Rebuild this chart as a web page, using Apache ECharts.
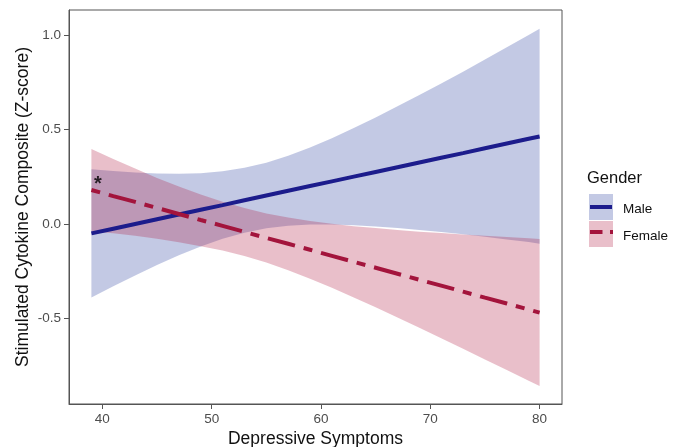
<!DOCTYPE html>
<html>
<head>
<meta charset="utf-8">
<script src="https://cdn.jsdelivr.net/npm/echarts@6/dist/echarts.min.js"></script>
<style>html,body{margin:0;padding:0;background:#fff}#c{width:681px;height:447px}</style>
</head>
<body>
<div id="c"></div>
<script>
// Depressive symptoms (x) at which values were read
var xs = [39, 41, 43, 45, 47, 49, 51, 53, 55, 57, 59, 61, 63, 65, 67, 69, 71, 73, 75, 77, 79, 80];
// Male fitted line and confidence band
var maleFit   = [-0.050, -0.025, 0.000, 0.025, 0.050, 0.075, 0.100, 0.126, 0.151, 0.176, 0.201, 0.226, 0.251, 0.276, 0.301, 0.326, 0.351, 0.376, 0.402, 0.427, 0.452, 0.464];
var maleLower = [-0.390, -0.331, -0.273, -0.218, -0.166, -0.119, -0.079, -0.046, -0.023, -0.010, -0.003, -0.003, -0.007, -0.013, -0.022, -0.032, -0.043, -0.055, -0.068, -0.082, -0.096, -0.105];
var maleUpper = [0.290, 0.281, 0.273, 0.268, 0.266, 0.269, 0.279, 0.298, 0.325, 0.362, 0.405, 0.455, 0.509, 0.565, 0.624, 0.684, 0.745, 0.808, 0.872, 0.937, 1.002, 1.035];
// Female fitted line and confidence band
var femaleFit   = [0.180, 0.148, 0.117, 0.085, 0.053, 0.021, -0.010, -0.042, -0.074, -0.105, -0.137, -0.169, -0.201, -0.232, -0.264, -0.296, -0.327, -0.359, -0.391, -0.422, -0.454, -0.470];
var femaleLower = [-0.040, -0.049, -0.062, -0.078, -0.097, -0.118, -0.141, -0.170, -0.205, -0.245, -0.290, -0.339, -0.390, -0.442, -0.496, -0.551, -0.606, -0.662, -0.719, -0.775, -0.832, -0.860];
var femaleUpper = [0.398, 0.345, 0.294, 0.244, 0.199, 0.156, 0.118, 0.085, 0.056, 0.034, 0.016, 0.001, -0.012, -0.022, -0.032, -0.041, -0.048, -0.056, -0.063, -0.069, -0.076, -0.080];
// Axis ticks
var xTicks = [40, 50, 60, 70, 80];
var yTicks = [-0.5, 0.0, 0.5, 1.0];
// Significance marker
var starPoint = [[39.6, 0.238]];

var FONT = '"Liberation Sans", Arial, sans-serif';
var maleBand = 'rgba(55,75,165,0.30)';
var femaleBand = 'rgba(175,25,65,0.28)';
var maleLine = '#1c1c8c';
var femaleLine = '#a3143c';

function pairs(a) { return xs.map(function (x, i) { return [x, a[i]]; }); }
function bandRows(lo, hi) { return xs.map(function (x, i) { return [x, lo[i], hi[i]]; }); }

function bandRenderer(lo, hi, color) {
  return function (params, api) {
    if (params.dataIndex !== 0) return null;
    var pts = [];
    for (var i = 0; i < xs.length; i++) pts.push(api.coord([xs[i], hi[i]]));
    for (var j = xs.length - 1; j >= 0; j--) pts.push(api.coord([xs[j], lo[j]]));
    return {type: 'polygon', shape: {points: pts}, style: {fill: color}, silent: true};
  };
}

var chart = echarts.init(document.getElementById('c'), null, {renderer: 'canvas'});
chart.setOption({
  animation: false,
  backgroundColor: '#fff',
  textStyle: {fontFamily: FONT},
  grid: {left: 69, right: 119, top: 10, bottom: 43, show: true, borderColor: '#555', borderWidth: 1, backgroundColor: '#fff',
    containLabel: false, outerBoundsMode: 'none'},
  xAxis: {
    type: 'value', min: 36.95, max: 82.05,
    name: 'Depressive Symptoms', nameLocation: 'middle', nameGap: 26, nameMoveOverlap: false,
    nameTextStyle: {fontSize: 17.5, color: '#111', fontFamily: FONT},
    axisLine: {show: true, onZero: false, lineStyle: {color: '#555', width: 1}},
    axisTick: {show: true, length: 5, lineStyle: {color: '#555'}, customValues: xTicks},
    axisLabel: {fontSize: 13.5, color: '#4d4d4d', margin: 8, fontFamily: FONT, customValues: xTicks},
    splitLine: {show: false}
  },
  yAxis: {
    type: 'value', min: -0.955, max: 1.135,
    name: 'Stimulated Cytokine Composite (Z-score)', nameLocation: 'middle', nameGap: 37, nameMoveOverlap: false,
    nameTextStyle: {fontSize: 17.5, color: '#111', fontFamily: FONT},
    axisLine: {show: true, onZero: false, lineStyle: {color: '#555', width: 1}},
    axisTick: {show: true, length: 5, lineStyle: {color: '#555'}, customValues: yTicks},
    axisLabel: {fontSize: 13.5, color: '#4d4d4d', margin: 8, fontFamily: FONT, customValues: yTicks,
      formatter: function (v) { return v.toFixed(1); }},
    splitLine: {show: false}
  },
  series: [
    {type: 'custom', name: 'maleBand', data: bandRows(maleLower, maleUpper), encode: {x: 0, y: [1, 2]},
      renderItem: bandRenderer(maleLower, maleUpper, maleBand), clip: true, silent: true, z: 1},
    {type: 'custom', name: 'femaleBand', data: bandRows(femaleLower, femaleUpper), encode: {x: 0, y: [1, 2]},
      renderItem: bandRenderer(femaleLower, femaleUpper, femaleBand), clip: true, silent: true, z: 2},
    {type: 'line', name: 'Male', data: pairs(maleFit), symbol: 'none', lineStyle: {color: maleLine, width: 4}, z: 3},
    {type: 'line', name: 'Female', data: pairs(femaleFit), symbol: 'none', lineStyle: {color: femaleLine, width: 4, type: [9, 9, 28, 9], cap: 'butt'}, z: 4},
    {type: 'scatter', data: starPoint, symbolSize: 0, itemStyle: {color: 'rgba(0,0,0,0)'}, z: 5,
      label: {show: true, formatter: '*', position: 'inside', fontSize: 20, fontWeight: 'bold', color: '#000', fontFamily: FONT, offset: [0, 5]}}
  ],
  graphic: [
    {type: 'text', left: 587, top: 170, style: {text: 'Gender', fontSize: 16.5, fill: '#111', fontFamily: FONT}},
    {type: 'rect', shape: {x: 589, y: 194, width: 24, height: 26}, style: {fill: maleBand}},
    {type: 'line', shape: {x1: 590, y1: 207, x2: 612, y2: 207}, style: {stroke: maleLine, lineWidth: 4}},
    {type: 'text', left: 623, top: 202, style: {text: 'Male', fontSize: 13.5, fill: '#111', fontFamily: FONT}},
    {type: 'rect', shape: {x: 589, y: 221, width: 24, height: 26}, style: {fill: femaleBand}},
    {type: 'line', shape: {x1: 590, y1: 232, x2: 613, y2: 232}, style: {stroke: femaleLine, lineWidth: 4, lineDash: [12.5, 7.5, 3, 7.5], lineCap: 'butt'}},
    {type: 'text', left: 623, top: 229, style: {text: 'Female', fontSize: 13.5, fill: '#111', fontFamily: FONT}}
  ]
});
</script>
</body>
</html>
